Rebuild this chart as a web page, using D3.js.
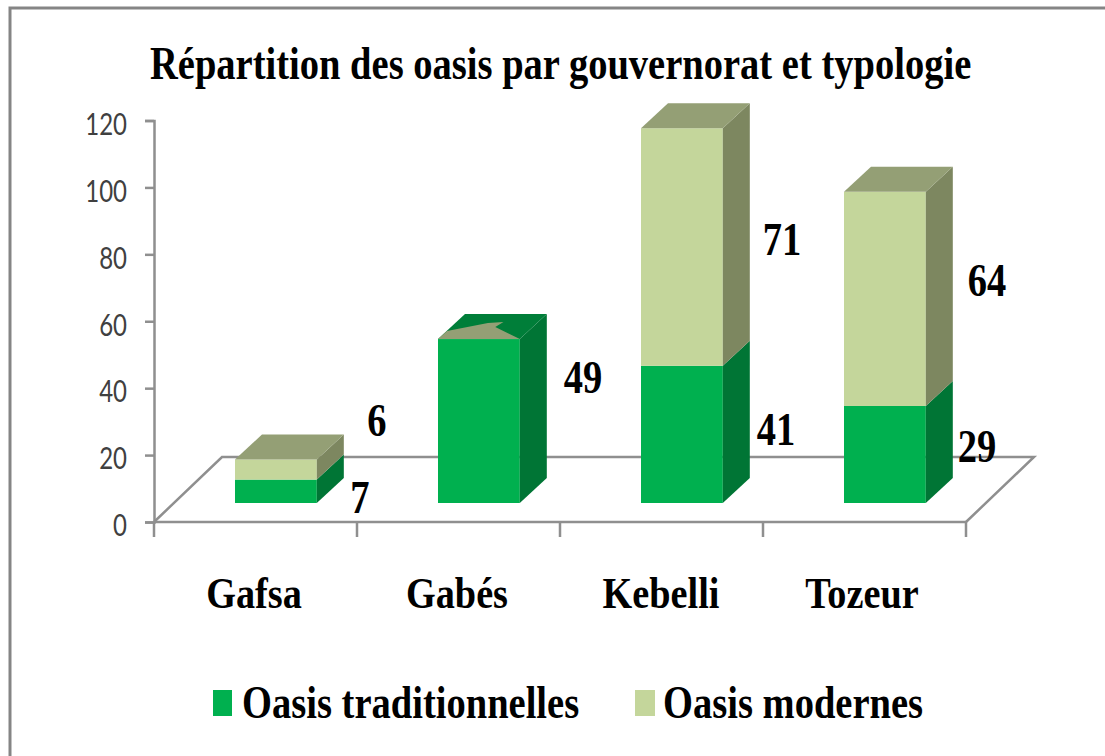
<!DOCTYPE html>
<html>
<head>
<meta charset="utf-8">
<script src="https://cdn.jsdelivr.net/npm/d3@7"></script>
<style>
html, body { margin: 0; padding: 0; background: #fff; }
svg { display: block; }
text { font-family: "Liberation Serif", serif; font-weight: bold; fill: #000; }
.tick text { font-family: Lato, sans-serif; font-weight: normal; fill: #404040; }
</style>
</head>
<body>
<div class="render"></div>
<script>
var governorates = ['Gafsa', 'Gabés', 'Kebelli', 'Tozeur'];
var traditional = [7, 49, 41, 29];
var modern = [6, 0, 71, 64];
var yTicks = [0, 20, 40, 60, 80, 100, 120];
var seriesNames = ['Oasis traditionnelles', 'Oasis modernes'];
var front = ['#00b04f', '#c4d69b'];
var side = ['#007535', '#7d8760'];
var topFace = ['#007e39', '#949f75'];

var w = 1105, h = 756;
var svg = d3.select('.render').append('svg').attr('width', w).attr('height', h);

// squeezed serif, the picture was stretched vertically
function label(txt, x, y, size, sx, anchor) {
   return svg.append('text').text(txt)
      .attr('transform', 'translate(' + x + ',' + y + ') scale(' + sx + ',1)')
      .attr('text-anchor', anchor || 'middle')
      .style('font-size', size + 'px');
}

svg.append('path').attr('d', 'M10,756V8H1105').attr('fill', 'none').attr('stroke', '#858585').attr('stroke-width', 3);

var yScale = d3.scaleLinear().domain([0, 120]).range([522, 120.5]);
var xScale = d3.scaleBand().domain(governorates).range([154, 966]);
var depthX = 68, depthY = 65;        // floor
var barDepthX = 27, barDepthY = 25;  // bars
var baseDrop = 19;                   // bar foot sits above the front edge
var barW = xScale.bandwidth() * 0.403;
var unit = yScale(0) - yScale(1);

// floor
svg.append('path')
   .attr('d', d3.line()([[xScale.range()[0], yScale(0)], [xScale.range()[0] + depthX, yScale(0) - depthY], [xScale.range()[1] + depthX, yScale(0) - depthY], [xScale.range()[1], yScale(0)]]))
   .attr('fill', '#fff').attr('stroke', '#8f8f8f').attr('stroke-width', 2.5);

// axes
var yAxis = d3.axisLeft(yScale).tickValues(yTicks).tickSize(9);
var gy = svg.append('g').attr('transform', 'translate(' + xScale.range()[0] + ',0)').call(yAxis);
gy.selectAll('.tick text')
   .attr('x', 0)
   .attr('dy', '0.36em')
   .attr('transform', 'translate(-27,3) scale(0.8,1)')
   .style('font-size', '30px');
var gx = svg.append('g').attr('transform', 'translate(0,' + yScale(0) + ')');
gx.append('path').attr('class', 'domain').attr('d', 'M' + xScale.range()[0] + ',0H' + xScale.range()[1]).attr('fill', 'none');
gx.selectAll('.tk').data(d3.range(5)).enter().append('line').attr('class', 'tk')
   .attr('x1', function (d) { return xScale.range()[0] + d * xScale.step(); })
   .attr('x2', function (d) { return xScale.range()[0] + d * xScale.step(); })
   .attr('y1', 0).attr('y2', 15);
svg.selectAll('.domain, .tick line, .tk').attr('stroke', '#8f8f8f').attr('stroke-width', 2.5);

function barX(name) { return xScale(name) + xScale.bandwidth() * 0.399; }

governorates.forEach(function (name, i) {
   var x0 = barX(name);
   var foot = yScale(0) - baseDrop;
   var stack = [traditional[i], modern[i]];
   var sum = 0;
   stack.forEach(function (v, s) {
      if (v === 0) return;
      var yb = foot - sum * unit;
      var yt = foot - (sum + v) * unit;
      sum += v;
      svg.append('rect').attr('x', x0).attr('y', yt).attr('width', barW).attr('height', yb - yt).attr('fill', front[s]);
      svg.append('path').attr('fill', side[s]).attr('d', d3.line()([[x0 + barW, yb], [x0 + barW + barDepthX, yb - barDepthY], [x0 + barW + barDepthX, yt - barDepthY], [x0 + barW, yt]]));
   });
   var last = stack[1] > 0 ? 1 : 0;
   var yt = foot - sum * unit;
   svg.append('path').attr('fill', topFace[last]).attr('d', d3.line()([[x0, yt], [x0 + barDepthX, yt - barDepthY], [x0 + barW + barDepthX, yt - barDepthY], [x0 + barW, yt]]));
   // Gabés has an empty modern segment, its top shows a sliver of it
   if (stack[1] === 0) {
      svg.append('path').attr('fill', topFace[1]).attr('d', d3.line()([[x0, yt], [x0 + barW * 0.11, yt - barDepthY * 0.32], [x0 + barW * 0.61, yt - barDepthY * 0.64], [x0 + barW * 0.8, yt - barDepthY * 0.68], [x0 + barW * 0.7, yt - barDepthY * 0.48], [x0 + barW, yt]]));
   }
});

// value labels
var tradLabelPos = [[360, 513], [583, 393], [776, 445], [977, 462]];
var modLabelPos = [[377, 436], null, [782, 255], [987, 296]];
governorates.forEach(function (name, i) {
   label(traditional[i], tradLabelPos[i][0], tradLabelPos[i][1], 47, 0.82);
   if (modLabelPos[i]) label(modern[i], modLabelPos[i][0], modLabelPos[i][1], 47, 0.82);
});

// category labels
var catCentre = [254, 457, 661, 862];
governorates.forEach(function (name, i) {
   label(name, catCentre[i], 608, 45, 0.85);
});

label('Répartition des oasis par gouvernorat et typologie', 150, 79, 47, 0.82, 'start');

// legend
svg.append('rect').attr('x', 213).attr('y', 690).attr('width', 19).attr('height', 26).attr('fill', front[0]);
label(seriesNames[0], 242, 718, 47, 0.82, 'start');
svg.append('rect').attr('x', 635).attr('y', 690).attr('width', 20).attr('height', 26).attr('fill', front[1]);
label(seriesNames[1], 663, 718, 47, 0.82, 'start');
</script>
</body>
</html>
